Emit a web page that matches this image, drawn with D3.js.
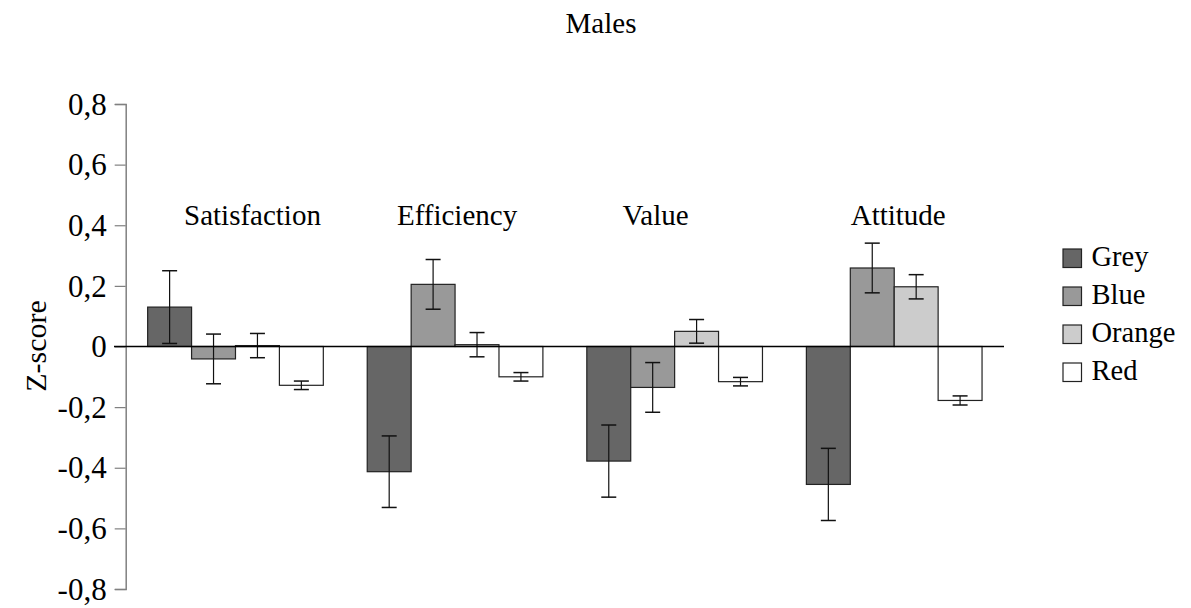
<!DOCTYPE html>
<html><head><meta charset="utf-8"><script src="https://cdn.jsdelivr.net/npm/d3@7"></script></head>
<body style="margin:0">
<svg id="fig" width="1191" height="608"></svg>
<script>
// ---- data ----
const categories = ["Satisfaction", "Efficiency", "Value", "Attitude"];
const seriesNames = ["Grey", "Blue", "Orange", "Red"];
const greyValues   = [0.130, -0.413, -0.378, -0.455];
const greyErrors   = [0.120, 0.118, 0.119, 0.119];
const blueValues   = [-0.041, 0.205, -0.135, 0.259];
const blueErrors   = [0.082, 0.082, 0.082, 0.082];
const orangeValues = [0.003, 0.006, 0.050, 0.197];
const orangeErrors = [0.040, 0.040, 0.039, 0.040];
const redValues    = [-0.128, -0.100, -0.116, -0.178];
const redErrors    = [0.014, 0.014, 0.014, 0.015];
const yTicks = [-0.8, -0.6, -0.4, -0.2, 0, 0.2, 0.4, 0.6, 0.8];
const yTickLabels = ["-0,8", "-0,6", "-0,4", "-0,2", "0", "0,2", "0,4", "0,6", "0,8"];
const titleText = "Males";
const yLabel = "Z-score";

// ---- layout/style (not data) ----
const colors = ["#666666", "#999999", "#cccccc", "#ffffff"];
const labelDx = [17, 2, -19, 4];
const serif = '"Liberation Serif", Tinos, Times';
function setFont(sel, size) {
  sel.each(function() {
    this.style.setProperty("font-family", serif, "important");
    this.style.setProperty("font-size", size, "important");
    this.style.setProperty("fill", "#000", "important");
  });
  return sel;
}

const seriesValues = [greyValues, blueValues, orangeValues, redValues];
const seriesErrors = [greyErrors, blueErrors, orangeErrors, redErrors];

const svg = d3.select("#fig");

const x0 = d3.scaleBand().domain(categories).range([125.7, 1004]).paddingInner(0.2).paddingOuter(0.1);
const x1 = d3.scaleBand().domain(seriesNames).range([0, x0.bandwidth()]);
const y = d3.scaleLinear().domain([-0.8, 0.8]).range([589, 104]);

// title
setFont(svg.append("text").attr("x", 601).attr("y", 33).attr("text-anchor", "middle").text(titleText), "29px");

// y axis
const yAxis = d3.axisLeft(y).tickValues(yTicks)
  .tickFormat((d, i) => yTickLabels[i]).tickSizeOuter(0).tickSize(11).tickPadding(8);
const gy = svg.append("g").attr("transform", "translate(125.7,0)").call(yAxis);
gy.attr("font-family", serif).attr("font-size", null);
gy.select(".domain").attr("stroke", "#808080").attr("stroke-width", 1.5);
gy.selectAll(".tick line").attr("stroke", "#808080").attr("stroke-width", 1.2);
setFont(gy.selectAll(".tick text").attr("dy", "0.33em"), "31px");

// y label
setFont(svg.append("text").attr("transform", "translate(46,346) rotate(-90)")
  .attr("text-anchor", "middle").text(yLabel), "30px");

// bars
const groups = svg.append("g").selectAll("g").data(categories).join("g")
  .attr("transform", d => `translate(${x0(d)},0)`);

groups.each(function(cat, ci) {
  const g = d3.select(this);
  seriesNames.forEach((s, si) => {
    const v = seriesValues[si][ci];
    const e = seriesErrors[si][ci];
    const bx = x1(s);
    g.append("rect")
      .attr("x", bx).attr("width", x1.bandwidth())
      .attr("y", Math.min(y(v), y(0))).attr("height", Math.abs(y(v) - y(0)))
      .attr("fill", colors[si]).attr("stroke", "#222").attr("stroke-width", 1.2);
    const cx = bx + x1.bandwidth() / 2;
    g.append("line").attr("x1", cx).attr("x2", cx)
      .attr("y1", y(v + e)).attr("y2", y(v - e)).attr("stroke", "#111").attr("stroke-width", 1.2);
    [v + e, v - e].forEach(t => {
      g.append("line").attr("x1", cx - 7.5).attr("x2", cx + 7.5)
        .attr("y1", y(t)).attr("y2", y(t)).attr("stroke", "#111").attr("stroke-width", 1.5);
    });
  });
});

// zero line
svg.append("line").attr("x1", 114).attr("x2", 1004).attr("y1", y(0)).attr("y2", y(0))
  .attr("stroke", "#000").attr("stroke-width", 1.3);

// category labels
setFont(svg.append("g").selectAll("text").data(categories).join("text")
  .attr("x", (d, i) => x0(d) + x0.bandwidth() / 2 + labelDx[i])
  .attr("y", 225).attr("text-anchor", "middle").text(d => d), "29px");

// legend
const lg = svg.append("g").selectAll("g").data(seriesNames).join("g")
  .attr("transform", (d, i) => `translate(1063,${249 + i * 38})`);
lg.append("rect").attr("width", 18.5).attr("height", 18.5)
  .attr("fill", (d, i) => colors[i]).attr("stroke", "#222").attr("stroke-width", 1.2);
setFont(lg.append("text").attr("x", 28.5).attr("y", 16.5).text(d => d), "28.5px");
</script>
</body>
</html>
